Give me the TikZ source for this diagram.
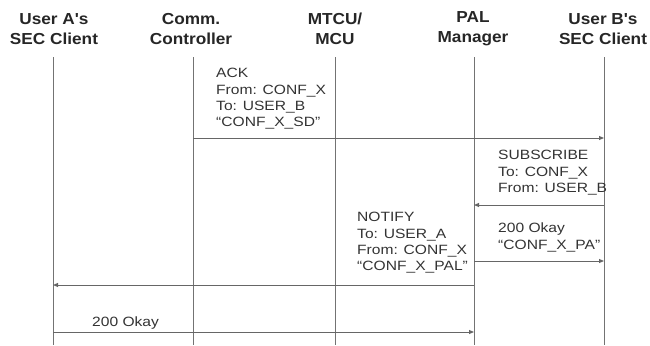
\documentclass[tikz,border=0pt]{standalone}
\usepackage{fontspec}
\setmainfont{Liberation Sans}
\newfontfamily\lblfont[FakeStretch=1.16]{Liberation Sans}
\newfontfamily\hdfont[FakeStretch=1.08]{Liberation Sans}
\usetikzlibrary{arrows.meta}
\begin{document}
\begin{tikzpicture}[x=1bp,y=-1bp,
  head/.style={font=\hdfont\fontsize{16}{20}\selectfont\bfseries, align=center, text=black!85, inner sep=0},
  lbl/.style={font=\lblfont\fontsize{13.5}{16.5}\selectfont, align=left, anchor=north west, inner sep=0, text=black!80},
  life/.style={draw=black!55, line width=0.8bp},
  msg/.style={draw=black!60, line width=0.9bp, -{Triangle[length=5bp,width=4bp]}}]
\useasboundingbox (0,0) rectangle (650,345);
% headers
\node[head] (hA) at (54,29) {User A's\\SEC Client};
\node[head] (hC) at (191,29) {Comm.\\Controller};
\node[head] (hM) at (335,29) {MTCU/\\MCU};
\node[head] (hP) at (473,29) {PAL\\Manager};
\node[head] (hB) at (603,29) {User B's\\SEC Client};
% lifelines
\coordinate (At) at (53,57);  \coordinate (Ab) at (53,345);
\coordinate (Ct) at (193,57); \coordinate (Cb) at (193,345);
\coordinate (Mt) at (335,57); \coordinate (Mb) at (335,345);
\coordinate (Pt) at (474,57); \coordinate (Pb) at (474,345);
\coordinate (Bt) at (604,57); \coordinate (Bb) at (604,345);
\foreach \l in {A,C,M,P,B} \draw[life] (\l t) -- (\l b);
% message end points
\coordinate (m1s) at (193,138); \coordinate (m1e) at (604,138);
\coordinate (m2s) at (604,205); \coordinate (m2e) at (474,205);
\coordinate (m3s) at (474,261); \coordinate (m3e) at (604,261);
\coordinate (m4s) at (474,285); \coordinate (m4e) at (53,285);
\coordinate (m5s) at (53,332);  \coordinate (m5e) at (474,332);
\draw[msg] (m1s) -- (m1e);
\draw[msg] (m2s) -- (m2e);
\draw[msg] (m3s) -- (m3e);
\draw[msg] (m4s) -- (m4e);
\draw[msg] (m5s) -- (m5e);
% labels
\node[lbl] (l1) at (216,68) {ACK\\From: CONF\_X\\To: USER\_B\\“CONF\_X\_SD”};
\node[lbl] (l2) at (498,150) {SUBSCRIBE\\To: CONF\_X\\From: USER\_B};
\node[lbl] (l3) at (498,223) {200 Okay\\“CONF\_X\_PA”};
\node[lbl] (l4) at (357,212) {NOTIFY\\To: USER\_A\\From: CONF\_X\\“CONF\_X\_PAL”};
\node[lbl] (l5) at (92,317) {200 Okay};
\end{tikzpicture}
\end{document}
